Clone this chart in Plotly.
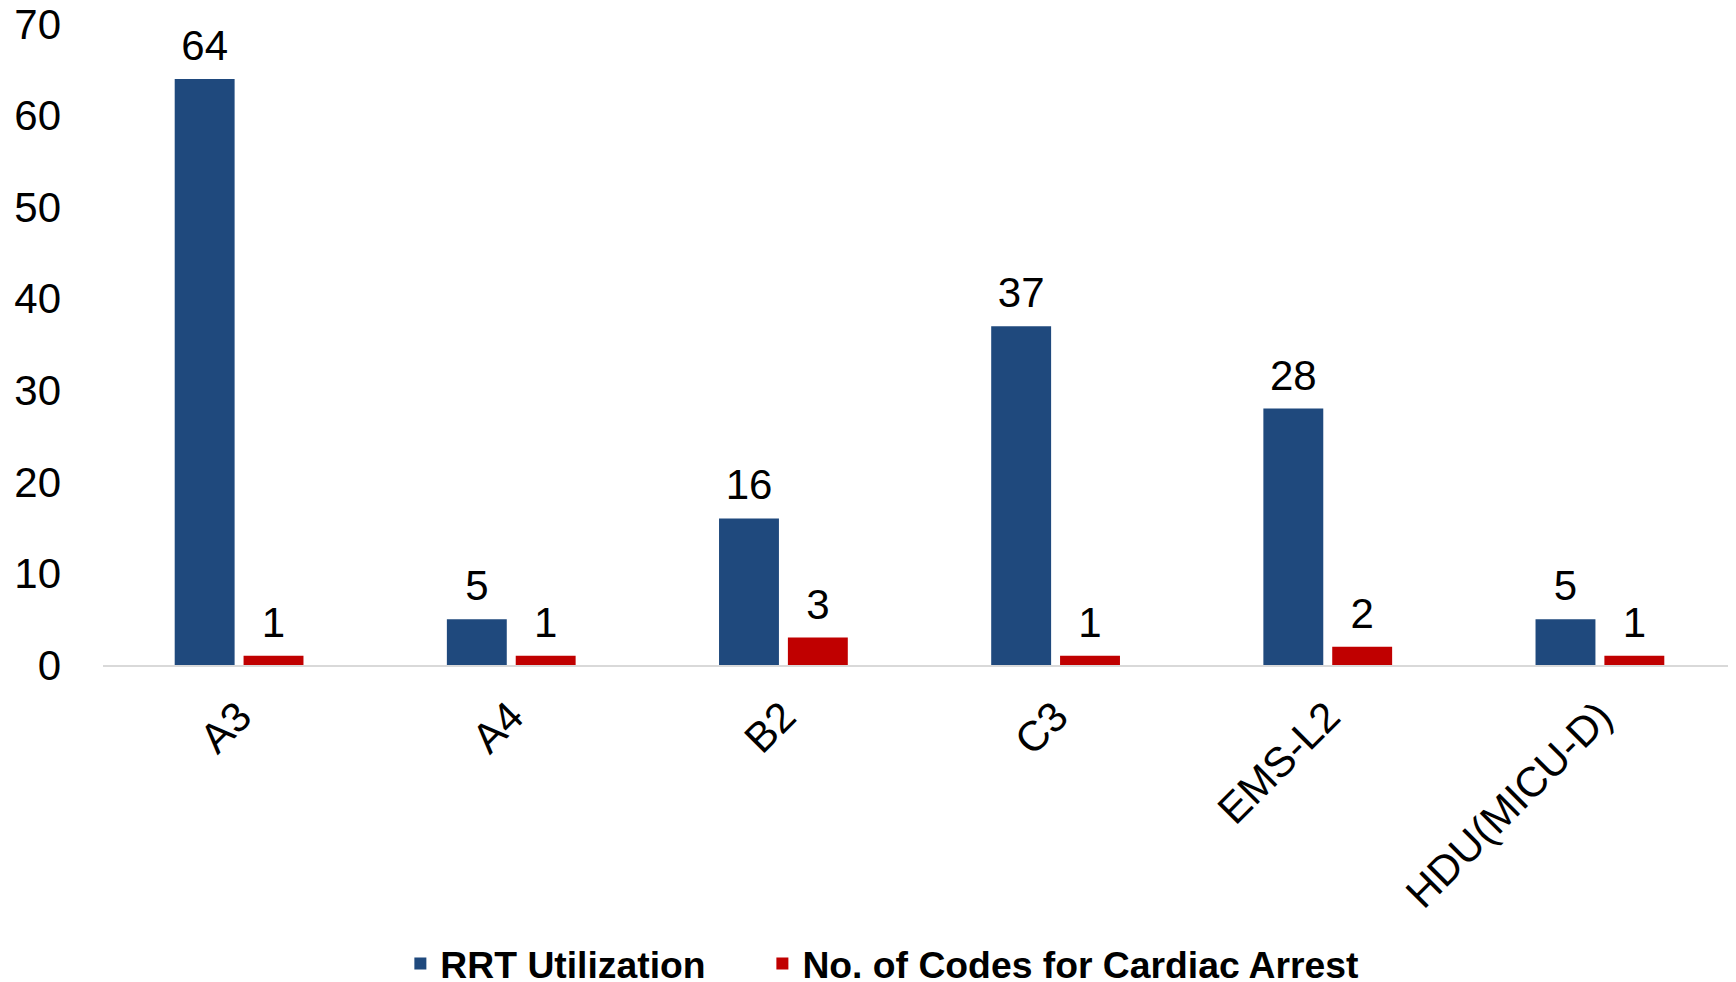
import plotly.graph_objects as go

categories = ["A3", "A4", "B2", "C3", "EMS-L2", "HDU(MICU-D)"]
rrt_utilization = [64, 5, 16, 37, 28, 5]
cardiac_arrest_codes = [1, 1, 3, 1, 2, 1]
y_ticks = [0, 10, 20, 30, 40, 50, 60, 70]
series_names = ["RRT Utilization" + "\u00a0" * 5, "No. of Codes for Cardiac Arrest"]
series_values = [rrt_utilization, cardiac_arrest_codes]
series_colors = ["#1F497D", "#C00000"]

FONT = "Liberation Sans, Arial, sans-serif"

fig = go.Figure()
for i, (name, vals, col) in enumerate(zip(series_names, series_values, series_colors)):
    fig.add_trace(go.Bar(
        x=categories, y=vals, name=name,
        marker=dict(color=col, line=dict(width=0)),
        offsetgroup=str(i), alignmentgroup="g",
    ))
for i, vals in enumerate(series_values):
    fig.add_trace(go.Scatter(
        x=categories, y=vals, mode="markers+text", text=[str(v) for v in vals],
        textposition="top center", cliponaxis=False,
        marker=dict(size=12, opacity=0),
        textfont=dict(size=42, color="black", family=FONT),
        offsetgroup=str(i), alignmentgroup="g",
        showlegend=False, hoverinfo="skip",
    ))

fig.update_layout(
    width=1728, height=974,
    margin=dict(l=95, r=0, t=16, b=317, autoexpand=False),
    paper_bgcolor="white", plot_bgcolor="white",
    barmode="group", bargap=0.494, bargroupgap=0.13,
    scattermode="group", scattergap=0.494,
    font=dict(family=FONT, size=42, color="black"),
    showlegend=True,
    legend=dict(
        orientation="h", xref="container", yref="paper",
        x=0.506, xanchor="center", y=-0.466, yanchor="middle",
        font=dict(size=37.3, family=FONT, color="black", weight="bold"),
        itemwidth=30, bgcolor="rgba(0,0,0,0)",
    ),
)
fig.update_xaxes(
    tickangle=-45, tickfont=dict(size=42, family=FONT, color="black"),
    showline=True, linecolor="#D9D9D9", linewidth=2,
    showgrid=False, ticks="", zeroline=False, automargin=False,
    ticklabelstandoff=8,
)
fig.update_yaxes(
    range=[0, 70], tickvals=y_ticks, tickfont=dict(size=42, family=FONT, color="black"),
    showgrid=False, showline=False, zeroline=False, ticks="", automargin=False,
    ticklabelstandoff=41, ticklabeloverflow="allow",
)

fig.write_html("out.html")
